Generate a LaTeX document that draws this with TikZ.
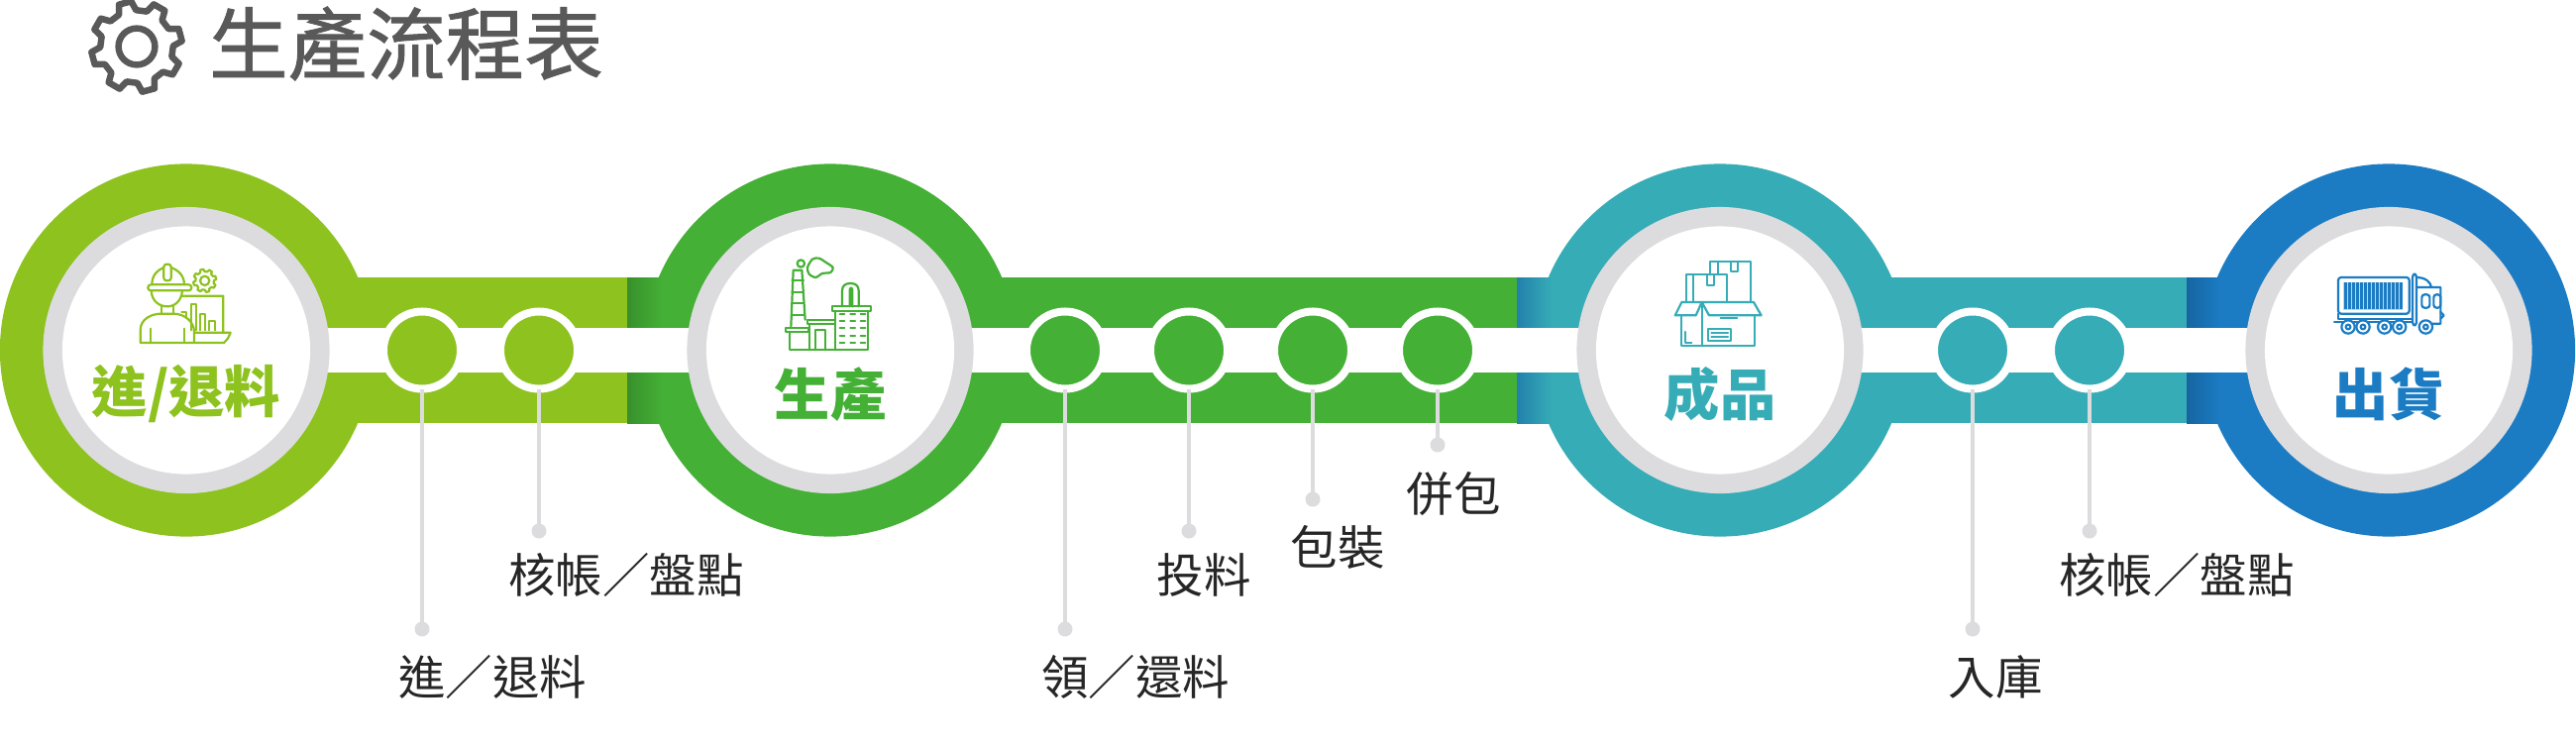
\documentclass[tikz,border=0pt]{standalone}
\usepackage{fontspec}
\setmainfont{Noto Sans CJK TC}
\newfontfamily\titlefont[FakeBold=1.2]{Noto Sans CJK TC}
\usepackage{tikz}
\definecolor{lime}{HTML}{8DC21F}
\definecolor{leaf}{HTML}{44B035}
\definecolor{teal}{HTML}{36ACB6}
\definecolor{sea}{HTML}{1B7CC4}
\definecolor{ringgray}{HTML}{DCDCDE}
\definecolor{titlegray}{HTML}{595959}
\newcommand{\gear}[4]{
	\draw[draw=#3,line width=#4,line join=round,shift={#1},scale=#2,rotate=15] (-14:0.8)
		\foreach \a in {0,45,...,315}{ -- (\a-14:0.8) -- (\a-8:1) -- (\a+8:1) -- (\a+14:0.8) } -- cycle;
	\draw[draw=#3,line width=#4,shift={#1},scale=#2] (0,0) circle[radius=0.4];
}
\begin{document}
\begin{tikzpicture}[x=0.01cm,y=-0.01cm]
	\useasboundingbox (0,0) rectangle (2600,751);
	\tikzstyle{bigdisc}=[circle,inner sep=0,outer sep=0,minimum size=3.76cm]
	\tikzstyle{graydisc}=[circle,inner sep=0,outer sep=0,fill=ringgray,minimum size=2.89cm]
	\tikzstyle{whitedisc}=[circle,inner sep=0,outer sep=0,fill=white,minimum size=2.5cm]
	\tikzstyle{stop}=[circle,inner sep=0,outer sep=0,draw=white,line width=0.08cm,minimum size=0.78cm]
	\tikzstyle{dot}=[circle,inner sep=0,outer sep=0,fill=ringgray,minimum size=0.15cm]
	\tikzstyle{stem}=[draw=ringgray,line width=0.045cm]
	\tikzstyle{label}=[inner sep=0,font=\fontsize{13.5}{13.5}\selectfont,text=black!85]
	\tikzstyle{head}=[inner sep=0,font=\fontsize{16}{16}\selectfont\bfseries]
	\tikzstyle{icon}=[line width=0.022cm,line join=round,line cap=round]
	\fill[lime] (188,280) rectangle (633,427);
	\fill[leaf] (633,280) rectangle (1531,427);
	\fill[teal] (1531,280) rectangle (2207,427);
	\fill[sea] (2207,280) rectangle (2411,427);
	\foreach \n/\x/\c in {1/188/lime,2/838/leaf,3/1736/teal,4/2411/sea}{
		\node[bigdisc,fill=\c] (c_\n) at (\x,353.5) {};
	}
	\shade[left color=leaf!82!black,right color=leaf] (633,280) rectangle (668,427);
	\shade[left color=sea!60!teal!90!black,right color=teal] (1531,280) rectangle (1566,427);
	\shade[left color=sea!82!black,right color=sea] (2207,280) rectangle (2242,427);
	\fill[white] (188,331) rectangle (2411,376);
	\foreach \n/\x in {1/188,2/838,3/1736,4/2411}{
		\node[graydisc] (r_\n) at (\x,353.5) {};
		\node[whitedisc] (w_\n) at (\x,353.5) {};
	}
	\node[head,text=lime] (h_1) at (188,398) {進/退料};
	\node[head,text=leaf] (h_2) at (838,398) {生產};
	\node[head,text=teal] (h_3) at (1736,398) {成品};
	\node[head,text=sea] (h_4) at (2411,398) {出貨};
	\foreach \n/\x/\c/\y in {1/426/lime/635,2/544/lime/536,3/1075/leaf/635,4/1200/leaf/536,5/1325/leaf/504,6/1451/leaf/449,7/1991/teal/635,8/2109/teal/536}{
		\node[stop,fill=\c] (s_\n) at (\x,353.5) {};
		\node[dot] (d_\n) at (\x,\y) {};
		\draw[stem] (s_\n) -- (d_\n);
	}
	\node[label] (l_1) at (497,683) {進／退料};
	\node[label] (l_2) at (632,580) {核帳／盤點};
	\node[label] (l_3) at (1146,683) {領／還料};
	\node[label] (l_4) at (1215,580) {投料};
	\node[label] (l_5) at (1350,552) {包裝};
	\node[label] (l_6) at (1467,499) {併包};
	\node[label] (l_7) at (2014,683) {入庫};
	\node[label] (l_8) at (2197,580) {核帳／盤點};
	\node[inner sep=0,font=\fontsize{22.6}{22.6}\selectfont\titlefont,text=titlegray] (title) at (410,44) {生產流程表};
	\gear{(138,47)}{46}{titlegray}{0.065cm}
	\begin{scope}[shift={(120,250)},x=0.01cm/3,y=-0.01cm/3,icon,draw=lime]
		\draw (100,112) .. controls (100,85) and (115,68) .. (136,60) (158,60) .. controls (180,68) and (198,85) .. (198,112);
		\draw[rounded corners=0.8pt] (136,100) -- (136,50) -- (158,50) -- (158,100) -- cycle;
		\draw[rounded corners=0.8pt] (88,112) rectangle (220,130);
		\draw (98,130) .. controls (100,165) and (125,178) .. (147,178) .. controls (170,178) and (190,160) .. (192,130);
		\draw (128,178) -- (128,200) (165,178) -- (165,200);
		\draw (65,288) -- (65,250) .. controls (65,215) and (100,200) .. (128,200) -- (165,200) .. controls (200,200) and (228,225) .. (228,255) -- (228,288) -- cycle;
		\draw (95,245) -- (95,288) (198,245) -- (198,288);
		\draw (190,146) -- (316,146) -- (316,255) (230,257) -- (338,257) -- (330,275) -- (318,288) -- (230,288);
		\draw (218,250) -- (218,170) -- (234,170) -- (234,250) (245,250) -- (245,200) -- (262,200) -- (262,250) (274,250) -- (274,222) -- (290,222) -- (290,250) (190,195) -- (205,195) -- (205,212);
		\gear{(260,100)}{35}{lime}{0.022cm}
	\end{scope}
	\begin{scope}[shift={(770,250)},x=0.01cm/3,y=-0.01cm/3,icon,draw=leaf]
		\draw (115,48) circle[radius=11];
		\draw plot[smooth cycle] coordinates {(135,60) (150,35) (170,32) (190,44) (212,60) (205,75) (180,78) (160,90) (140,80)};
		\draw (85,240) -- (92,68) -- (118,68) -- (128,218);
		\foreach \y in {100,135,168,205}{
			\draw (88,\y) -- (123,\y);
		}
		\draw (70,242) rectangle (138,255);
		\draw (82,255) -- (82,308) -- (318,308) -- (318,192);
		\draw (136,220) rectangle (218,232);
		\draw (140,232) -- (140,308) (160,308) -- (160,250) -- (190,250) -- (190,308);
		\draw (210,178) rectangle (328,192);
		\draw (218,192) -- (218,308);
		\foreach \y in {200,222,244,266,288}{
			\foreach \x in {233,265,296}{
				\draw (\x,\y) -- ++(14,0);
			}
		}
		\draw (240,178) -- (240,130) .. controls (240,115) and (250,108) .. (265,108) .. controls (280,108) and (290,115) .. (290,130) -- (290,178);
		\draw (263,178) -- (263,128) .. controls (263,120) and (271,120) .. (271,128) -- (271,178);
	\end{scope}
	\begin{scope}[shift={(1670,250)},x=0.01cm/3,y=-0.01cm/3,icon,draw=teal]
		\draw (167,82) -- (167,42) -- (292,42) -- (292,165) (192,42) -- (192,82) (230,42) -- (230,72) -- (252,72) -- (252,42);
		\draw (95,165) -- (95,82) -- (218,82) -- (218,165) (118,82) -- (118,165) (158,82) -- (158,113) -- (180,113) -- (180,82);
		\draw (82,205) -- (82,298) -- (302,298) -- (302,205) (143,170) -- (143,298);
		\draw (62,205) -- (82,165) -- (143,165) -- (125,205) -- cycle;
		\draw (143,165) -- (165,205) -- (323,205) -- (300,165) -- cycle;
		\draw (200,213) -- (250,213) (172,258) -- (222,258) (172,270) -- (222,270);
		\draw (162,246) rectangle (232,283);
		\draw (92,255) -- (92,288) -- (112,288);
	\end{scope}
	\begin{scope}[shift={(2340,260)},x=0.01cm/3,y=-0.01cm/3,icon,draw=sea]
		\fill[sea!30] (75,75) rectangle (255,158);
		\draw[rounded corners=0.8pt] (60,60) rectangle (275,170);
		\foreach \x in {82,94,...,250}{
			\draw[line width=0.025cm,line cap=butt] (\x,76) -- (\x,157);
		}
		\draw (60,170) -- (60,185) -- (285,185) (48,195) -- (285,195);
		\draw[rounded corners=0.8pt] (285,50) rectangle (297,205);
		\draw (297,60) .. controls (325,60) and (340,75) .. (342,90) (297,90) -- (370,90) -- (370,200) -- (345,200);
		\draw (370,165) -- (380,175) -- (370,185);
		\draw[rounded corners=0.8pt] (313,112) rectangle (337,152);
		\draw[rounded corners=0.8pt] (349,112) rectangle (370,152);
		\foreach \x in {90,135,200,245,325}{
			\draw[fill=white] (\x,210) circle[radius=20];
			\draw (\x,210) circle[radius=7];
		}
	\end{scope}
\end{tikzpicture}
\end{document}
